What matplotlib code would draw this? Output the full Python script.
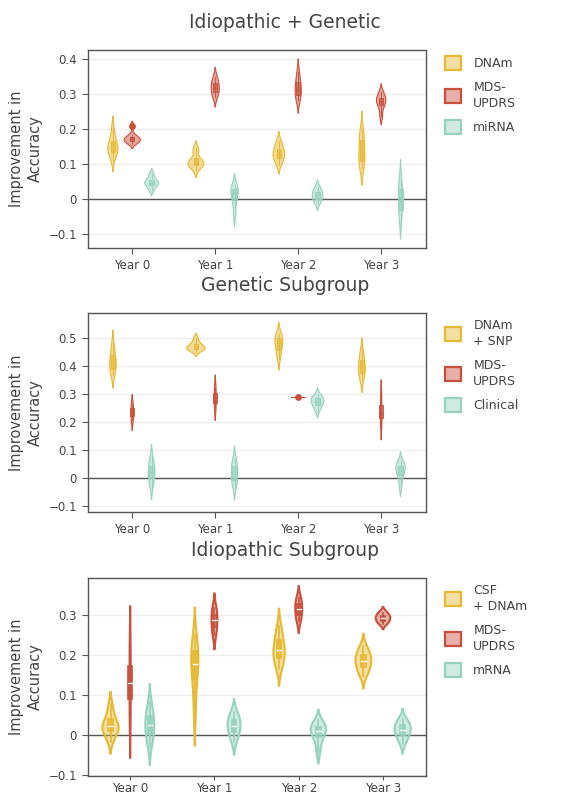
import numpy as np
import matplotlib.pyplot as plt
from matplotlib.colors import to_rgba
from matplotlib.patches import Patch, Rectangle

plt.rcParams['font.family'] = ['DejaVu Sans']

years = ['Year 0', 'Year 1', 'Year 2', 'Year 3']

# Idiopathic + Genetic
ig_dnam = [[0.110, 0.128, 0.133, 0.140, 0.144, 0.148, 0.158, 0.170, 0.178, 0.205],
           [0.082, 0.092, 0.096, 0.100, 0.103, 0.106, 0.110, 0.120, 0.138, 0.146],
           [0.098, 0.108, 0.115, 0.122, 0.128, 0.132, 0.138, 0.146, 0.155, 0.166],
           [0.090, 0.098, 0.106, 0.115, 0.130, 0.145, 0.160, 0.172, 0.180, 0.200]]
ig_mds = [[0.158, 0.163, 0.168, 0.171, 0.175, 0.182, 0.208],
          [0.290, 0.300, 0.310, 0.318, 0.326, 0.336, 0.348],
          [0.282, 0.292, 0.304, 0.315, 0.326, 0.340, 0.362],
          [0.236, 0.262, 0.272, 0.280, 0.286, 0.292, 0.305]]
ig_mirna = [[0.026, 0.037, 0.043, 0.047, 0.051, 0.058, 0.072],
            [-0.045, -0.012, 0.005, 0.018, 0.025, 0.031, 0.040],
            [-0.012, -0.002, 0.005, 0.011, 0.017, 0.025, 0.034],
            [-0.055, -0.040, -0.020, 0.005, 0.025, 0.035, 0.055]]

# Genetic subgroup
gen_dnam_snp = [[0.368, 0.378, 0.386, 0.398, 0.408, 0.416, 0.428, 0.442, 0.455, 0.480],
                [0.450, 0.455, 0.459, 0.462, 0.465, 0.468, 0.472, 0.478, 0.486, 0.500],
                [0.425, 0.440, 0.455, 0.465, 0.478, 0.487, 0.493, 0.500, 0.508, 0.515],
                [0.350, 0.362, 0.372, 0.382, 0.392, 0.400, 0.410, 0.425, 0.438, 0.455]]
gen_mds = [[0.205, 0.234, 0.262],
           [0.250, 0.285, 0.322],
           [0.288, 0.288, 0.288],
           [0.195, 0.230, 0.290]]
gen_clinical = [[-0.035, -0.018, -0.005, 0.005, 0.015, 0.025, 0.035, 0.045, 0.058, 0.075],
                [-0.035, -0.022, -0.010, 0.000, 0.012, 0.022, 0.032, 0.045, 0.055, 0.068],
                [0.238, 0.250, 0.258, 0.265, 0.270, 0.275, 0.280, 0.285, 0.290, 0.297],
                [-0.035, -0.010, 0.008, 0.018, 0.026, 0.032, 0.038, 0.045, 0.052, 0.060]]

# Idiopathic subgroup
idio_csf_dnam = [[-0.018, -0.006, 0.004, 0.010, 0.015, 0.019, 0.023, 0.028, 0.036, 0.046, 0.058, 0.078],
                 [0.040, 0.085, 0.120, 0.145, 0.160, 0.172, 0.182, 0.192, 0.205, 0.220, 0.235, 0.250],
                 [0.165, 0.175, 0.184, 0.193, 0.201, 0.208, 0.215, 0.222, 0.232, 0.245, 0.257, 0.272],
                 [0.146, 0.155, 0.163, 0.170, 0.176, 0.182, 0.187, 0.192, 0.198, 0.205, 0.212, 0.222]]
idio_mds = [[0.048, 0.130, 0.215],
            [0.250, 0.268, 0.286, 0.300, 0.316],
            [0.285, 0.300, 0.314, 0.327, 0.340],
            [0.277, 0.285, 0.291, 0.297, 0.305]]
idio_mrna = [[-0.030, -0.012, 0.000, 0.010, 0.020, 0.030, 0.040, 0.050, 0.062, 0.082],
             [-0.018, -0.005, 0.005, 0.012, 0.020, 0.026, 0.032, 0.040, 0.048, 0.058],
             [-0.045, -0.022, -0.008, 0.000, 0.006, 0.012, 0.017, 0.022, 0.028, 0.036],
             [-0.022, -0.010, -0.002, 0.004, 0.010, 0.015, 0.020, 0.026, 0.032, 0.040]]

YELLOW, RED, TEAL = '#E6B932', '#C8503C', '#96D2BE'
TXT = '#444444'


def kde(vals):
    v = np.sort(np.asarray(vals, float))
    n = len(v)
    q1, q3 = np.percentile(v, [25, 75])
    bw = 1.059 * min(v.std(ddof=1), (q3 - q1) / 1.349) * n ** -0.2
    if bw == 0:
        return None
    y = np.linspace(v[0] - 2 * bw, v[-1] + 2 * bw, 400)
    k = np.exp(-0.5 * ((y[:, None] - v[None, :]) / bw) ** 2).sum(1)
    return y, k / (bw * np.sqrt(2 * np.pi))  # density scaled by sample count


def draw_panel(ax, groups, title, ylim, yticks, xlim, scale, lw, thick, xpad=4):
    offs = [-0.233, 0, 0.233]
    for gi, (series, color, label) in enumerate(groups):
        for yi, s in enumerate(series):
            x = yi + offs[gi]
            s = np.asarray(s, float)
            r = kde(s)
            if r is None:
                ax.plot([x - 0.085, x + 0.085], [s[0], s[0]], color=color, lw=lw, zorder=3)
                ax.scatter([x], [s[0]], s=24, color=color, zorder=4, linewidths=0)
                continue
            y, d = r
            hw = d * scale
            fc = to_rgba(color, 0.45 if thick else 0.5)
            ax.fill(np.r_[x - hw, (x + hw)[::-1]], np.r_[y, y[::-1]],
                    facecolor=fc, edgecolor=color, lw=lw, zorder=3)
            q1, med, q3 = np.percentile(s, [25, 50, 75])
            iqr = q3 - q1
            inside = s[(s >= q1 - 1.5 * iqr) & (s <= q3 + 1.5 * iqr)]
            out = s[(s < q1 - 1.5 * iqr) | (s > q3 + 1.5 * iqr)]
            ax.plot([x, x], [inside.min(), inside.max()], color=color, lw=lw * 0.8, zorder=4)
            bwid = 0.026
            ax.add_patch(Rectangle((x - bwid, q1), 2 * bwid, q3 - q1,
                                   facecolor=to_rgba(color, 0.6), edgecolor=color,
                                   lw=lw * 0.8, zorder=5))
            ax.plot([x - bwid, x + bwid], [med, med],
                    color='white' if thick else color, lw=lw * 0.6, zorder=6)
            if len(out):
                ax.scatter(np.full(len(out), x), out, s=24, color=color, zorder=6, linewidths=0)

    ax.set_xlim(*xlim)
    ax.set_ylim(*ylim)
    ax.set_xticks(range(len(years)))
    ax.set_xticklabels(years)
    ax.set_yticks(yticks)
    ax.set_yticklabels(['0' if abs(t) < 1e-9 else f'{t:.1f}'.replace('-', '\u2212') for t in yticks])
    ax.grid(axis='y', color='#eeeeee', lw=1, zorder=0)
    ax.set_axisbelow(True)
    ax.axhline(0, color='#555555', lw=1, zorder=2)
    for sp in ax.spines.values():
        sp.set_color('#555555')
        sp.set_linewidth(1)
    ax.tick_params(colors=TXT, labelsize=8.5, length=4, width=0.8, pad=4, color='#555555')
    ax.tick_params(axis='x', pad=xpad, length=min(4, xpad + 1.5))
    handles = [Patch(facecolor=to_rgba(c, 0.45), edgecolor=c, lw=1.6) for _, c, _ in groups]
    leg = ax.legend(handles, [g[2] for g in groups], loc='upper left',
                    bbox_to_anchor=(1.055, 0.97), frameon=False, borderaxespad=0, borderpad=0,
                    handlelength=1.3, handleheight=1.3, handletextpad=1.0,
                    labelspacing=0.85, fontsize=9)
    for t in leg.get_texts():
        t.set_color(TXT)
        t.set_linespacing(1.3)
    pos = ax.get_position()
    fig.text(0.5, pos.y1 + 0.035, title, ha='center', va='center', fontsize=13.5, color=TXT)
    fig.text(26 / 570, (pos.y0 + pos.y1) / 2, 'Improvement in\nAccuracy', rotation=90,
             ha='center', va='center', fontsize=10.5, color=TXT, linespacing=1.25)


fig = plt.figure(figsize=(5.7, 7.96), dpi=100)
W, H = 570, 796
ax1 = fig.add_axes([88 / W, 1 - 248 / H, 338 / W, 198 / H])
ax2 = fig.add_axes([88 / W, 1 - 512 / H, 338 / W, 199 / H])
ax3 = fig.add_axes([88 / W, 1 - 776 / H, 338 / W, 198 / H])

draw_panel(ax1, [(ig_dnam, YELLOW, 'DNAm'), (ig_mds, RED, 'MDS-\nUPDRS'), (ig_mirna, TEAL, 'miRNA')],
           'Idiopathic + Genetic', (-0.139, 0.425), [-0.1, 0, 0.1, 0.2, 0.3, 0.4],
           (-0.533, 3.54), 4.5e-4, 0.8, False)
draw_panel(ax2, [(gen_dnam_snp, YELLOW, 'DNAm\n+ SNP'), (gen_mds, RED, 'MDS-\nUPDRS'),
                 (gen_clinical, TEAL, 'Clinical')],
           'Genetic Subgroup', (-0.1225, 0.589), [-0.1, 0, 0.1, 0.2, 0.3, 0.4, 0.5],
           (-0.533, 3.54), 4.3e-4, 0.8, False)
draw_panel(ax3, [(idio_csf_dnam, YELLOW, 'CSF\n+ DNAm'), (idio_mds, RED, 'MDS-\nUPDRS'),
                 (idio_mrna, TEAL, 'mRNA')],
           'Idiopathic Subgroup', (-0.1025, 0.391), [-0.1, 0, 0.1, 0.2, 0.3],
           (-0.50, 3.51), 5.7e-4, 1.5, True, xpad=1.5)

fig.savefig('out.png', dpi=100)
